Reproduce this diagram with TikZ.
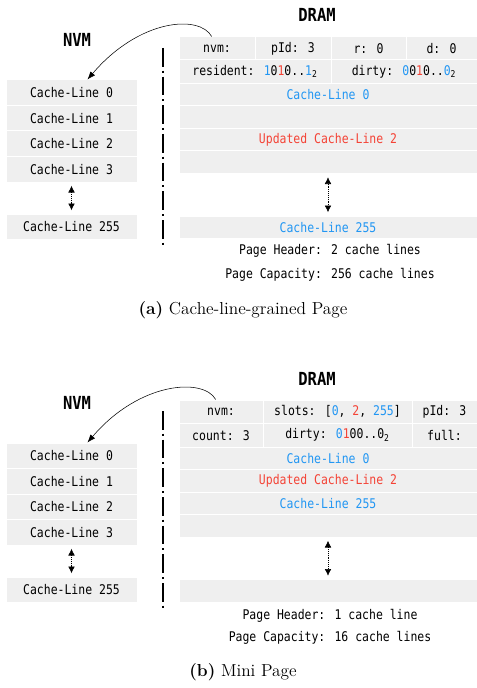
\documentclass[tikz,border=0pt]{standalone}
\usepackage{fontspec}
\usepackage{tikz}
\usetikzlibrary{arrows.meta}

\newfontfamily\codefont[FakeStretch=0.86]{DejaVu Sans Mono}
\definecolor{lineblue}{RGB}{33,150,243}
\definecolor{linered}{RGB}{244,67,54}
\definecolor{cellgray}{RGB}{239,239,239}
\newcommand{\bl}[1]{\textcolor{lineblue}{#1}}
\newcommand{\rd}[1]{\textcolor{linered}{#1}}
% memory cell: name, x1, y1, x2, y2, text
\newcommand{\memcell}[6]{%
  \node[cellbox, minimum width={(#4-#2)*0.75pt}, minimum height={(#5-#3)*0.75pt}]
    (#1) at ({(#2+#4)/2},{(#3+#5)/2}) {#6};}

\begin{document}
\begin{tikzpicture}[x=0.75pt,y=-0.75pt,
    cellbox/.style={fill=cellgray, draw=white, line width=0.75pt, inner sep=0pt,
      font=\codefont\fontsize{10}{12}\selectfont},
    title/.style={font=\codefont\bfseries\fontsize{13.5}{15}\selectfont},
    note/.style={font=\codefont\fontsize{10}{12}\selectfont},
    caption/.style={font=\fontsize{13}{15}\selectfont},
    gap/.style={densely dotted, {Latex[length=5pt,width=5pt]}-{Latex[length=5pt,width=5pt]},
      shorten <=2.5pt, shorten >=2.5pt},
    fetch/.style={-{Latex[length=6pt,width=4.5pt]}},
    sep/.style={line width=1.5pt, dash pattern=on 14pt off 3pt on 1.5pt off 3pt}]
  \useasboundingbox (0,0) rectangle (477,688);

  % (a) cache-line-grained page
  \node[title] (nvmA) at (77,40) {NVM};
  \node[title] (dramA) at (317,15) {DRAM};
  \foreach \i/\y in {0/80,1/105.5,2/131,3/156.5}{
    \memcell{clA\i}{6}{\y}{137}{\y+25.5}{Cache-Line \i}
  }
  \memcell{clA255}{6}{214}{137}{239.5}{Cache-Line 255}
  \draw[gap] (clA3.south) -- (clA255.north);
  \draw[sep] (163,48) -- (163,246);

  \memcell{nvmfA}{179}{37}{255}{60}{nvm:}
  \memcell{pidA}{255}{37}{331}{60}{pId: 3}
  \memcell{rA}{331}{37}{406}{60}{r: 0}
  \memcell{dA}{406}{37}{477}{60}{d: 0}
  \memcell{resA}{179}{60}{331}{83.5}{resident: \bl{1}0\rd{1}0..\bl{1}\textsubscript{2}}
  \memcell{dirtyA}{331}{60}{477}{83.5}{dirty: \bl{0}0\rd{1}0..\bl{0}\textsubscript{2}}
  \memcell{rowA0}{179}{83.5}{477}{106}{\bl{Cache-Line 0}}
  \memcell{rowA1}{179}{106}{477}{128.5}{}
  \memcell{rowA2}{179}{128.5}{477}{151}{\rd{Updated Cache-Line 2}}
  \memcell{rowA3}{179}{151}{477}{173.5}{}
  \memcell{rowA255}{179}{216}{477}{238.5}{\bl{Cache-Line 255}}
  \draw[gap] (rowA3.south) -- (rowA255.north);
  \node[note] (hdrA) at (330,251) {Page Header: 2 cache lines};
  \node[note] (capyA) at (330,275) {Page Capacity: 256 cache lines};
  \draw[fetch] ([xshift=-4pt]nvmfA.north) .. controls +(-12,-22) and +(52,-61) .. ([xshift=12pt]clA0.north);
  \node[caption] (capA) at (243,310) {\textbf{(a)} Cache-line-grained Page};

  % (b) mini page
  \node[title] (nvmB) at (77,403) {NVM};
  \node[title] (dramB) at (317,379) {DRAM};
  \foreach \i/\y in {0/443,1/468.5,2/494,3/519.5}{
    \memcell{clB\i}{6}{\y}{137}{\y+25.5}{Cache-Line \i}
  }
  \memcell{clB255}{6}{577}{137}{602.5}{Cache-Line 255}
  \draw[gap] (clB3.south) -- (clB255.north);
  \draw[sep] (163,411) -- (163,609);

  \memcell{nvmfB}{179}{400}{263}{423.5}{nvm:}
  \memcell{slotsB}{263}{400}{412}{423.5}{slots: [\bl{0}, \rd{2}, \bl{255}]}
  \memcell{pidB}{412}{400}{477}{423.5}{pId: 3}
  \memcell{countB}{179}{423.5}{263}{447}{count: 3}
  \memcell{dirtyB}{263}{423.5}{412}{447}{dirty: \bl{0}\rd{1}00..0\textsubscript{2}}
  \memcell{fullB}{412}{423.5}{477}{447}{full:}
  \memcell{rowB0}{179}{447}{477}{469.5}{\bl{Cache-Line 0}}
  \memcell{rowB1}{179}{469.5}{477}{492}{\rd{Updated Cache-Line 2}}
  \memcell{rowB2}{179}{492}{477}{514.5}{\bl{Cache-Line 255}}
  \memcell{rowB3}{179}{514.5}{477}{537}{}
  \memcell{rowB15}{179}{579.5}{477}{602}{}
  \draw[gap] (rowB3.south) -- (rowB15.north);
  \node[note] (hdrB) at (330,616) {Page Header: 1 cache line};
  \node[note] (capyB) at (330,638) {Page Capacity: 16 cache lines};
  \draw[fetch] ([xshift=-4pt]nvmfB.north) .. controls +(-12,-22) and +(52,-61) .. ([xshift=12pt]clB0.north);
  \node[caption] (capB) at (243,672) {\textbf{(b)} Mini Page};
\end{tikzpicture}
\end{document}
